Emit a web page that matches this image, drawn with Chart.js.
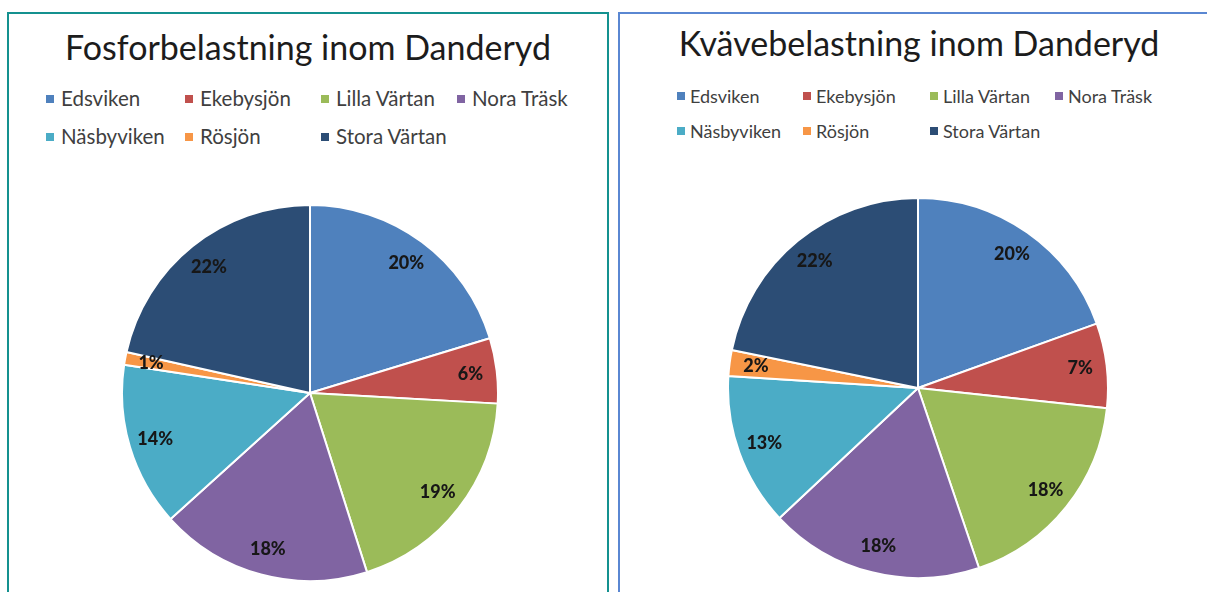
<!DOCTYPE html>
<html>
<head>
<meta charset="utf-8">
<script src="https://cdn.jsdelivr.net/npm/chart.js@4.4.1/dist/chart.umd.min.js"></script>
<style>
  html, body { margin: 0; padding: 0; background: #fff; overflow: hidden; }
  body { width: 1207px; height: 592px; position: relative; font-family: Lato, "Open Sans", sans-serif; }
  .box { position: absolute; top: 12px; height: 700px; box-sizing: border-box; }
  #boxP { left: 7px; width: 602px; border: 2px solid #14918f; }
  #boxN { left: 618px; width: 602px; border: 2px solid #5a87d2; }
  .title { position: absolute; left: 0; width: 100%; text-align: center; color: #1c1c1c; white-space: nowrap; }
  .legend { position: absolute; display: grid; color: #3f3f3f; white-space: nowrap; }
  .legend span.sq { display: inline-block; width: 8px; height: 8px; margin-right: 7px; vertical-align: middle; position: relative; top: -2px; }
  #legendN span.sq { margin-right: 5px; }
  canvas { position: absolute; }
</style>
</head>
<body>
<div class="box" id="boxP"></div>
<div class="box" id="boxN"></div>

<div class="title" id="titleP" style="left:9px;width:598px;top:27px;font-size:34px;line-height:40px;"></div>
<div class="title" id="titleN" style="left:620px;width:598px;top:23px;font-size:34px;line-height:40px;"></div>
<div class="legend" id="legendP" style="left:46px;top:86px;grid-template-columns:139px 136px 136px 136px;grid-auto-rows:38px;font-size:20.5px;"></div>
<div class="legend" id="legendN" style="left:677px;top:85px;grid-template-columns:126px 127px 125px 125px;grid-auto-rows:35px;font-size:18px;"></div>

<canvas id="pieP" width="378" height="378" style="left:121px;top:204px;"></canvas>
<canvas id="pieN" width="382" height="382" style="left:727px;top:197px;"></canvas>

<script>
// ---- data ----
const lakes = ['Edsviken', 'Ekebysjön', 'Lilla Värtan', 'Nora Träsk', 'Näsbyviken', 'Rösjön', 'Stora Värtan'];
const fosforShare = [20.3, 5.6, 19.2, 18.2, 14.1, 1.1, 21.5];
const kvaveShare = [19.5, 7.2, 18.1, 18.2, 13.0, 2.2, 21.8];
const colors = ['#4f81bd', '#c0504d', '#9bbb59', '#8064a2', '#4bacc6', '#f79646', '#2c4d75'];
const titleFosfor = 'Fosforbelastning inom Danderyd';
const titleKvave = 'Kvävebelastning inom Danderyd';

// percent labels placed near the rim, like the original
const pctLabels = {
    id: 'pctLabels',
    afterDatasetsDraw(chart) {
        const ctx = chart.ctx;
        const vals = chart.data.datasets[0].data;
        const total = vals.reduce((a, b) => a + b, 0);
        ctx.save();
        ctx.font = '900 18px Lato';
        ctx.fillStyle = '#171717';
        ctx.textAlign = 'center';
        ctx.textBaseline = 'middle';
        chart.getDatasetMeta(0).data.forEach((arc, i) => {
            const p = arc.getProps(['x', 'y', 'startAngle', 'endAngle', 'outerRadius'], true);
            const mid = (p.startAngle + p.endAngle) / 2;
            const r = p.outerRadius * 0.86;
            ctx.fillText(Math.round(vals[i] / total * 100) + '%', p.x + Math.cos(mid) * r, p.y + Math.sin(mid) * r);
        });
        ctx.restore();
    }
};

function makePie(id, values) {
    new Chart(document.getElementById(id), {
        type: 'pie',
        data: {
            labels: lakes,
            datasets: [{
                data: values,
                backgroundColor: colors,
                borderColor: '#ffffff',
                borderWidth: 2
            }]
        },
        options: {
            responsive: false,
            animation: false,
            layout: { padding: 0 },
            plugins: { legend: { display: false }, tooltip: { enabled: false } }
        },
        plugins: [pctLabels]
    });
}

function makeLegend(id) {
    const el = document.getElementById(id);
    el.innerHTML = lakes.map((name, i) =>
        `<div><span class="sq" style="background:${colors[i]}"></span>${name}</div>`
    ).join('');
}

document.getElementById('titleP').textContent = titleFosfor;
document.getElementById('titleN').textContent = titleKvave;
makeLegend('legendP');
makeLegend('legendN');
makePie('pieP', fosforShare);
makePie('pieN', kvaveShare);
</script>
</body>
</html>
